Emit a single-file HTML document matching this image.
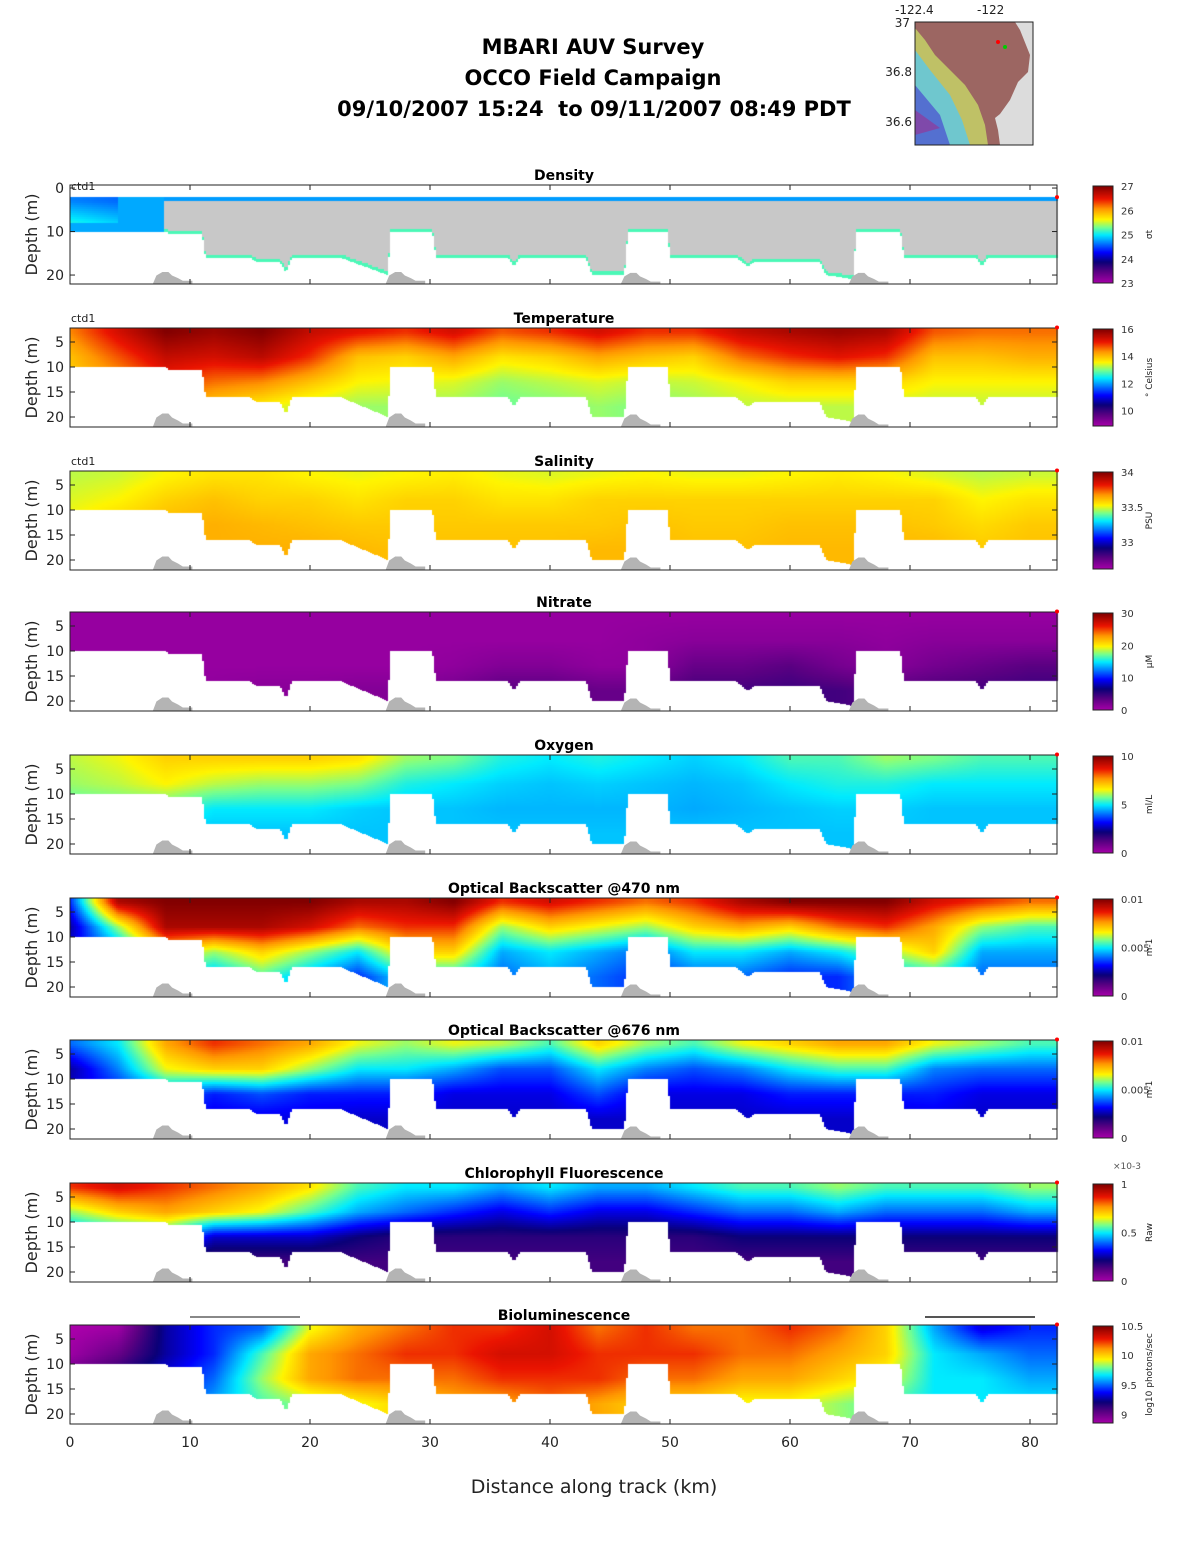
<!DOCTYPE html>
<html><head><meta charset="utf-8">
<style>
body{margin:0;background:#fff;}
#wrap{position:relative;width:1188px;height:1548px;overflow:hidden;font-family:"DejaVu Sans","Liberation Sans",sans-serif;}
canvas,svg{position:absolute;left:0;top:0;}
svg text{font-family:"DejaVu Sans","Liberation Sans",sans-serif;}
</style></head>
<body>
<div id="wrap">
<canvas id="cv" width="1188" height="1548"></canvas>
<svg id="sv" width="1188" height="1548">
<g font-weight="bold" font-size="21" text-anchor="middle" fill="#000">
<text x="593" y="54">MBARI AUV Survey</text>
<text x="593" y="85">OCCO Field Campaign</text>
<text x="594" y="116">09/10/2007 15:24&#160; to 09/11/2007 08:49 PDT</text>
</g>
<g>
<rect x="915" y="22" width="118" height="123" fill="#dcdcdc"/>
<path d="M957,22 L1015,22 L1020,30 L1030,55 L1028,72 L1018,82 L1010,100 L1000,114 L995,118 L998,130 L1000,145 L915,145 L915,22 Z" fill="#9c6662"/>
<path d="M915,28 L925,40 L935,55 L950,70 L965,85 L978,105 L985,125 L988,145 L915,145 Z" fill="#c8d868" opacity="0.8"/>
<path d="M915,50 L930,70 L950,95 L962,120 L970,145 L915,145 Z" fill="#60c8e0" opacity="0.85"/>
<path d="M915,85 L940,115 L950,145 L915,145 Z" fill="#5060d0" opacity="0.85"/>
<path d="M915,110 L940,128 L915,135 Z" fill="#8a40a0" opacity="0.8"/>
<rect x="915" y="22" width="118" height="123" fill="none" stroke="#222" stroke-width="1"/>
<circle cx="998" cy="42" r="2" fill="red"/><circle cx="1005" cy="47" r="2" fill="#0c0"/>
<g font-size="12" fill="#222"><text x="895" y="14">-122.4</text><text x="977" y="14">-122</text>
<text x="910" y="27" text-anchor="end">37</text><text x="912" y="76" text-anchor="end">36.8</text><text x="912" y="126" text-anchor="end">36.6</text></g>
</g>
<text x="594" y="1493" font-size="19" text-anchor="middle" fill="#222">Distance along track (km)</text>
</svg>
</div>
<script>
// ---- data ----
const gridKm = [0,4,8,12,16,20,24,28,32,36,40,44,48,52,56,60,64,68,72,76,80,84];
const gridDepth = [3,8,13,18];
const bottomKm =    [0,8,8.2,11,11.3,15,15.5,17.5,18,18.5,22.5,26.5,26.7,30.2,30.5,36.5,37,37.5,43,43.5,46.2,46.5,49.8,50,55.5,56.5,57,62.5,63,65.3,65.5,69.2,69.5,75.5,76,76.5,82.3];
const bottomDepth = [10,10,10.5,10.5,16,16,17,17,19.5,16,16,20,10,10,16,16,18,16,16,20,20,10,10,16,16,18,17,17,20,21,10,10,16,16,18,16,16];
const hillKm = [8.2,27.6,47.2,66.2];
const hillPeak = [19.3,19.3,19.5,19.5];
const xTicks = [0,10,20,30,40,50,60,70,80];

const densityField = [
 [0.42,0.40,-1,-1,-1,-1,-1,-1,-1,-1,-1,-1,-1,-1,-1,-1,-1,-1,-1,-1,-1,-1],
 [0.52,0.48,-1,-1,-1,-1,-1,-1,-1,-1,-1,-1,-1,-1,-1,-1,-1,-1,-1,-1,-1,-1],
 [-1,-1,-1,-1,-1,-1,-1,-1,-1,-1,-1,-1,-1,-1,-1,-1,-1,-1,-1,-1,-1,-1],
 [-1,-1,-1,-1,-1,-1,-1,-1,-1,-1,-1,-1,-1,-1,-1,-1,-1,-1,-1,-1,-1,-1]];
const temperatureField = [
 [0.78,0.9,1,0.97,1,0.92,0.88,0.85,0.9,0.82,0.85,0.9,0.85,0.85,0.92,0.95,0.97,0.95,0.82,0.8,0.8,0.8],
 [0.72,0.82,0.92,0.9,0.93,0.85,0.72,0.7,0.75,0.68,0.7,0.75,0.72,0.7,0.8,0.85,0.88,0.85,0.72,0.72,0.74,0.74],
 [0.7,0.75,0.85,0.8,0.78,0.72,0.66,0.65,0.64,0.6,0.62,0.64,0.62,0.63,0.66,0.7,0.7,0.7,0.66,0.66,0.66,0.66],
 [0.65,0.7,0.75,0.7,0.66,0.62,0.6,0.6,0.6,0.57,0.58,0.6,0.58,0.6,0.62,0.62,0.62,0.62,0.62,0.62,0.62,0.62]];
const salinityField = [
 [0.62,0.63,0.66,0.68,0.68,0.66,0.65,0.66,0.67,0.65,0.64,0.65,0.66,0.65,0.65,0.66,0.67,0.66,0.64,0.62,0.63,0.63],
 [0.64,0.66,0.7,0.72,0.7,0.7,0.68,0.7,0.7,0.68,0.68,0.7,0.7,0.7,0.7,0.7,0.7,0.7,0.7,0.66,0.68,0.68],
 [0.66,0.7,0.73,0.74,0.73,0.72,0.71,0.71,0.71,0.71,0.71,0.71,0.72,0.71,0.71,0.72,0.72,0.72,0.71,0.69,0.71,0.71],
 [0.68,0.7,0.73,0.74,0.74,0.74,0.73,0.72,0.72,0.72,0.72,0.73,0.73,0.72,0.72,0.73,0.73,0.73,0.73,0.71,0.72,0.72]];
const nitrateField = [
 [0.03,0.03,0.03,0.03,0.03,0.03,0.03,0.03,0.03,0.03,0.03,0.03,0.03,0.03,0.03,0.03,0.03,0.03,0.03,0.03,0.03,0.03],
 [0.03,0.03,0.03,0.03,0.03,0.03,0.03,0.03,0.03,0.03,0.03,0.03,0.04,0.05,0.05,0.05,0.05,0.04,0.05,0.05,0.05,0.05],
 [0.03,0.03,0.03,0.03,0.03,0.03,0.03,0.03,0.04,0.06,0.06,0.04,0.04,0.1,0.1,0.12,0.08,0.05,0.08,0.1,0.12,0.12],
 [0.04,0.04,0.04,0.04,0.05,0.05,0.06,0.06,0.08,0.12,0.12,0.1,0.1,0.15,0.15,0.16,0.15,0.12,0.14,0.15,0.16,0.16]];
const oxygenField = [
 [0.62,0.65,0.7,0.7,0.7,0.7,0.68,0.6,0.58,0.52,0.5,0.52,0.5,0.48,0.5,0.55,0.55,0.6,0.58,0.55,0.55,0.55],
 [0.6,0.62,0.66,0.62,0.6,0.6,0.58,0.52,0.5,0.48,0.47,0.48,0.47,0.46,0.47,0.5,0.52,0.52,0.5,0.5,0.5,0.5],
 [0.55,0.56,0.55,0.5,0.5,0.5,0.48,0.47,0.47,0.46,0.46,0.46,0.46,0.45,0.46,0.47,0.48,0.48,0.47,0.47,0.47,0.47],
 [0.48,0.48,0.47,0.47,0.47,0.47,0.47,0.47,0.47,0.47,0.47,0.47,0.47,0.47,0.47,0.47,0.47,0.47,0.47,0.47,0.47,0.47]];
const obs470Field = [
 [0.35,0.95,1,1,1,1,0.95,0.95,1,0.85,0.9,0.85,0.8,0.85,0.95,1,1,1,0.9,0.85,0.8,0.8],
 [0.25,0.6,0.95,0.95,0.95,0.9,0.8,0.85,0.85,0.6,0.7,0.65,0.6,0.7,0.75,0.7,0.8,0.85,0.75,0.6,0.55,0.55],
 [0.3,0.4,0.7,0.6,0.7,0.6,0.5,0.7,0.7,0.45,0.5,0.45,0.4,0.5,0.5,0.45,0.5,0.6,0.7,0.45,0.45,0.45],
 [0.35,0.4,0.5,0.45,0.55,0.45,0.35,0.5,0.5,0.4,0.45,0.4,0.35,0.4,0.4,0.35,0.35,0.45,0.5,0.4,0.4,0.4]];
const obs676Field = [
 [0.4,0.5,0.75,0.85,0.8,0.75,0.65,0.6,0.65,0.62,0.55,0.7,0.6,0.55,0.65,0.7,0.75,0.75,0.65,0.6,0.55,0.55],
 [0.25,0.42,0.65,0.7,0.7,0.6,0.5,0.5,0.45,0.38,0.38,0.5,0.42,0.38,0.42,0.5,0.55,0.55,0.42,0.4,0.4,0.4],
 [0.28,0.33,0.42,0.34,0.38,0.34,0.34,0.34,0.3,0.3,0.3,0.38,0.3,0.3,0.3,0.34,0.34,0.34,0.34,0.3,0.3,0.3],
 [0.28,0.3,0.33,0.3,0.3,0.3,0.28,0.28,0.28,0.28,0.28,0.28,0.28,0.28,0.28,0.28,0.28,0.28,0.3,0.28,0.28,0.28]];
const chlField = [
 [0.85,0.9,0.85,0.8,0.75,0.68,0.55,0.5,0.5,0.45,0.5,0.45,0.45,0.5,0.55,0.55,0.6,0.55,0.55,0.55,0.6,0.6],
 [0.6,0.7,0.75,0.7,0.65,0.55,0.45,0.4,0.35,0.3,0.35,0.3,0.3,0.35,0.4,0.4,0.45,0.4,0.4,0.4,0.45,0.45],
 [0.4,0.45,0.5,0.28,0.28,0.28,0.22,0.18,0.18,0.18,0.18,0.18,0.18,0.18,0.22,0.22,0.22,0.22,0.22,0.22,0.22,0.22],
 [0.15,0.15,0.15,0.15,0.15,0.15,0.15,0.15,0.15,0.15,0.15,0.15,0.15,0.15,0.15,0.15,0.15,0.15,0.15,0.15,0.15,0.15]];
const biolumField = [
 [0.0,0.02,0.25,0.35,0.4,0.65,0.75,0.8,0.85,0.85,0.9,0.8,0.85,0.8,0.8,0.85,0.8,0.7,0.45,0.3,0.35,0.35],
 [0.02,0.1,0.25,0.35,0.55,0.75,0.8,0.85,0.85,0.9,0.9,0.85,0.85,0.85,0.8,0.8,0.75,0.7,0.5,0.45,0.4,0.4],
 [0.1,0.2,0.3,0.4,0.6,0.75,0.8,0.8,0.8,0.85,0.85,0.85,0.8,0.8,0.75,0.75,0.7,0.65,0.5,0.5,0.45,0.45],
 [0.2,0.25,0.35,0.45,0.55,0.6,0.65,0.7,0.75,0.75,0.8,0.75,0.7,0.7,0.65,0.65,0.6,0.55,0.5,0.5,0.5,0.5]];

const panelTitles = ["Density","Temperature","Salinity","Nitrate","Oxygen","Optical Backscatter @470 nm","Optical Backscatter @676 nm","Chlorophyll Fluorescence","Bioluminescence"];
const panelNames = ["density","temperature","salinity","nitrate","oxygen","backscatter-470","backscatter-676","chlorophyll","bioluminescence"];
const cbTicks = [["27","26","25","24","23"],["16","14","12","10"],["34","33.5","33"],["30","20","10","0"],["10","5","0"],["0.01","0.005","0"],["0.01","0.005","0"],["1","0.5","0"],["10.5","10","9.5","9"]];
const cbTickFrac = [[0,0.25,0.5,0.75,1],[0,0.28,0.56,0.84],[0,0.36,0.72],[0,0.333,0.667,1],[0,0.5,1],[0,0.5,1],[0,0.5,1],[0,0.5,1],[0,0.3,0.61,0.91]];
const cbUnits = ["σt","° Celsius","PSU","μM","ml/L","m-1","m-1","Raw","log10 photons/sec"];

// ---- layout ----
const X0=70, X1=1057, PXKM=12, PH=99;
const tops=[185,328,471,612,755,898,1040,1183,1325];
function xs(km){return X0+km*PXKM;}
function ys(p,d){return p===0 ? tops[0]+(d+0.7)*4.35 : tops[p]+(d-2.2)*5;}
function depthAt(p,y){return p===0 ? (y-tops[0])/4.35-0.7 : (y-tops[p])/5+2.2;}
const fields=[densityField,temperatureField,salinityField,nitrateField,oxygenField,obs470Field,obs676Field,chlField,biolumField];

const stops=[[0,170,0,170],[0.12,90,0,130],[0.22,10,0,120],[0.32,0,0,255],[0.42,0,130,255],[0.5,0,235,255],[0.58,120,255,140],[0.66,255,245,0],[0.77,255,150,0],[0.87,235,20,0],[1,130,0,0]];
function cmap(t){t=Math.max(0,Math.min(1,t));for(let i=1;i<stops.length;i++){if(t<=stops[i][0]){const a=stops[i-1],b=stops[i],f=(t-a[0])/(b[0]-a[0]);return `rgb(${Math.round(a[1]+f*(b[1]-a[1]))},${Math.round(a[2]+f*(b[2]-a[2]))},${Math.round(a[3]+f*(b[3]-a[3]))})`;}}return 'rgb(130,0,0)';}
function interp1(xa,ya,x){if(x<=xa[0])return ya[0];for(let i=1;i<xa.length;i++){if(x<=xa[i]){const f=(x-xa[i-1])/(xa[i]-xa[i-1]||1);return ya[i-1]+f*(ya[i]-ya[i-1]);}}return ya[ya.length-1];}
function fieldVal(F,km,d){
  let i=Math.min(gridKm.length-2,Math.floor(km/4)); let fx=(km-gridKm[i])/4;
  let dd=Math.max(3,Math.min(18,d)); let j=Math.min(2,Math.floor((dd-3)/5)); let fy=(dd-gridDepth[j])/5;
  const a=F[j][i],b=F[j][i+1],c=F[j+1][i],e=F[j+1][i+1];
  if(a<0||b<0||c<0||e<0) return -1;
  return (a*(1-fx)+b*fx)*(1-fy)+(c*(1-fx)+e*fx)*fy;
}
const cv=document.getElementById('cv'),ctx=cv.getContext('2d');
const NS='http://www.w3.org/2000/svg',sv=document.getElementById('sv');
function mk(tag,attrs,parent){const e=document.createElementNS(NS,tag);for(const k in attrs)e.setAttribute(k,attrs[k]);(parent||sv).appendChild(e);return e;}

for(let p=0;p<9;p++){
  const F=fields[p], top=tops[p];
  for(let x=X0;x<X1;x+=2){
    const km=(x+1-X0)/PXKM; const bd=interp1(bottomKm,bottomDepth,km);
    const yStart=Math.round(ys(p,2.1)), yEnd=Math.min(top+PH,Math.round(ys(p,bd)));
    for(let y=Math.max(top,yStart);y<yEnd;y+=2){
      const d=depthAt(p,y+1);
      let v=fieldVal(F,km,d);
      let col;
      if(p===0){ if(km>7.8){ col = d<2.8 ? cmap(0.44) : (d>bd-0.8 ? cmap(0.55) : '#c8c8c8'); } else col=cmap(v<0?0.45:v);}
      else col=cmap(v);
      ctx.fillStyle=col; ctx.fillRect(x,y,2,Math.min(2,yEnd-y));
    }
  }
  const gh=mk('g',{});
  
  
  for(let h=0;h<hillKm.length;h++){
    const c=hillKm[h], pk=hillPeak[h], yb=top+PH;
    const pts=[[c-1.3,22.5],[c-1,pk+0.8],[c-0.5,pk],[c,pk],[c+0.3,pk+0.8],[c+0.8,pk+1.4],[c+1.2,pk+2],[c+2,pk+2],[c+2,22.5]];
    mk('polygon',{points:pts.map(q=>xs(q[0])+','+Math.min(yb,ys(p,q[1]))).join(' '),fill:'#b4b4b4'},gh);
  }
  const box=mk('rect',{x:X0,y:top,width:X1-X0,height:PH,fill:'none',stroke:'#222','stroke-width':1});
  
  
  for(const t of xTicks){mk('line',{x1:xs(t),x2:xs(t),y1:top+PH,y2:top+PH-5,stroke:'#222'});mk('line',{x1:xs(t),x2:xs(t),y1:top,y2:top+5,stroke:'#222'});}
  const yt = p===0?[0,10,20]:[5,10,15,20];
  for(const d of yt){const y=ys(p,d);mk('line',{x1:X0,x2:X0+5,y1:y,y2:y,stroke:'#222'});mk('line',{x1:X1,x2:X1-5,y1:y,y2:y,stroke:'#222'});
    const tl=mk('text',{x:64,y:y+5,'font-size':14,'text-anchor':'end',fill:'#222'});tl.textContent=d;
    
    }
  const yl=mk('text',{x:0,y:0,'font-size':16,'text-anchor':'middle',fill:'#222',transform:`translate(37,${top+PH/2}) rotate(-90)`});yl.textContent='Depth (m)';
  
  
  const tt=mk('text',{x:564,y:top-5,'font-size':14,'font-weight':'bold','text-anchor':'middle',fill:'#000'});tt.textContent=panelTitles[p];
  
  
  if(p<3){const c1=mk('text',{x:71,y:top+(p===0?5:-6),'font-size':11,fill:'#222'});c1.textContent='ctd1';
    
    }
  mk('circle',{cx:X1,cy:ys(p,2.1),r:2,fill:'red'});
  const cbTop=top+1,cbH=PH-2;
  for(let k=0;k<cbH;k++){ctx.fillStyle=cmap(1-k/cbH);ctx.fillRect(1093,cbTop+k,20,1);}
  const cb=mk('rect',{x:1093,y:cbTop,width:20,height:cbH,fill:'none',stroke:'#222'});
  
  
  cbTicks[p].forEach((lab,i)=>{const y=cbTop+cbTickFrac[p][i]*cbH;const t=mk('text',{x:1121,y:y+4,'font-size':10,fill:'#333'});t.textContent=lab;
    
    });
  const u=mk('text',{x:0,y:0,'font-size':9,'text-anchor':'middle',fill:'#222',transform:`translate(1152,${top+PH/2}) rotate(-90)`});u.textContent=cbUnits[p];
  
  
}
const ex=mk('text',{x:1113,y:1169,'font-size':9,fill:'#555'});ex.textContent='×10-3';


mk('line',{x1:190,x2:300,y1:1317,y2:1317,stroke:'#888','stroke-width':2});
mk('line',{x1:925,x2:1035,y1:1317,y2:1317,stroke:'#555','stroke-width':2});
xTicks.forEach(t=>{const e=mk('text',{x:xs(t),y:1447,'font-size':14,'text-anchor':'middle',fill:'#222'});e.textContent=t;
  
  });
</script>
</body></html>
